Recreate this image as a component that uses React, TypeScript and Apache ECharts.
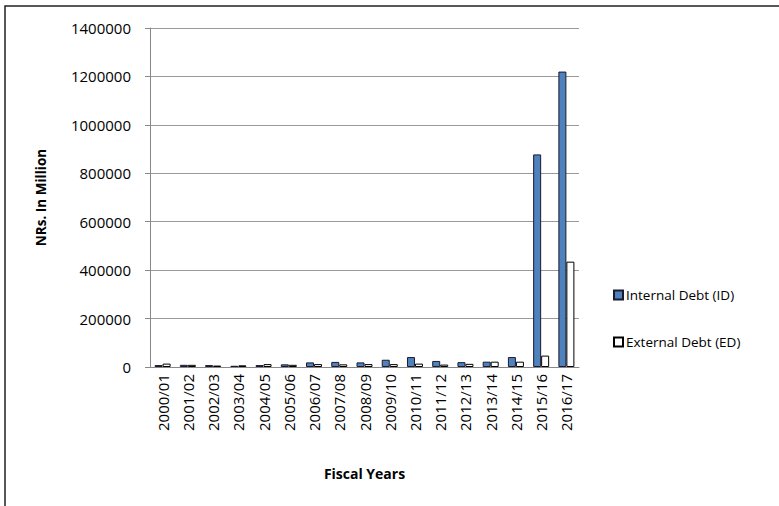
import React, { useEffect, useRef } from "react";
import * as echarts from "echarts";

const categories = [
  "2000/01", "2001/02", "2002/03", "2003/04", "2004/05", "2005/06", "2006/07", "2007/08", "2008/09",
  "2009/10", "2010/11", "2011/12", "2012/13", "2013/14", "2014/15", "2015/16", "2016/17",
];
const internalDebt = [8000, 9000, 8000, 5000, 8000, 11000, 19000, 21000, 19000, 30000, 41000, 25000, 20000, 22000, 41000, 878000, 1220000];
const externalDebt = [14000, 9000, 6000, 7000, 12000, 9000, 12000, 11000, 12000, 12000, 14000, 10000, 13000, 22000, 22000, 47000, 435000];
const yTicks = [0, 200000, 400000, 600000, 800000, 1000000, 1200000, 1400000];

const FONT = "'Open Sans', 'Noto Sans', sans-serif";

export default function App() {
  const ref = useRef<HTMLDivElement>(null);
  useEffect(() => {
    const chart = echarts.init(ref.current!, null, { renderer: "svg" });
    chart.setOption({
      animation: false,
      backgroundColor: "#fff",
      textStyle: { fontFamily: FONT },
      graphic: [
        {
          type: "rect",
          shape: { x: 5, y: 6, width: 790, height: 520 },
          style: { fill: "none", stroke: "#222", lineWidth: 1.5 },
          silent: true,
        },
      ],
      grid: { left: 150, top: 28, right: 200, bottom: 139, containLabel: false },
      legend: {
        orient: "vertical",
        left: 608,
        top: 283,
        itemGap: 33,
        itemWidth: 9,
        itemHeight: 9,
        itemSpacing: 4,
        icon: "rect",
        textStyle: { fontFamily: FONT, fontSize: 13.5, color: "#000", padding: [0, 0, 0, -2] },
        data: ["Internal Debt (ID)", "External Debt (ED)"],
      },
      xAxis: {
        type: "category",
        data: categories,
        name: "Fiscal Years",
        nameLocation: "middle",
        nameGap: 99,
        nameTextStyle: { fontFamily: FONT, fontSize: 14, fontWeight: "bold", color: "#000" },
        axisLine: { lineStyle: { color: "#888" } },
        axisTick: { show: false },
        axisLabel: { rotate: 90, fontFamily: FONT, fontSize: 15, color: "#000", margin: 7, interval: 0 },
      },
      yAxis: {
        type: "value",
        min: 0,
        max: 1400000,
        interval: 200000,
        name: "NRs. In Million",
        nameLocation: "middle",
        nameGap: 102,
        nameTextStyle: { fontFamily: FONT, fontSize: 13.5, fontWeight: "bold", color: "#000" },
        axisLine: { show: true, lineStyle: { color: "#888" } },
        axisTick: { show: true, length: 5, lineStyle: { color: "#888" } },
        axisLabel: {
          fontFamily: FONT,
          fontSize: 15,
          color: "#000",
          margin: 19,
          formatter: (v: number) => (yTicks.includes(v) ? String(v) : ""),
        },
        splitLine: { lineStyle: { color: "#999" } },
      },
      series: [
        {
          name: "Internal Debt (ID)",
          type: "bar",
          data: internalDebt,
          barWidth: 8,
          barGap: "0%",
          itemStyle: { color: "#4F81BD", borderColor: "#1a1a2e", borderWidth: 1 },
        },
        {
          name: "External Debt (ED)",
          type: "bar",
          data: externalDebt,
          barWidth: 8,
          barGap: "0%",
          itemStyle: { color: "#ffffff", borderColor: "#000", borderWidth: 1 },
        },
      ],
    });
    return () => chart.dispose();
  }, []);
  return <div ref={ref} style={{ width: 779, height: 506, position: "absolute", left: 0, top: 0 }} />;
}
